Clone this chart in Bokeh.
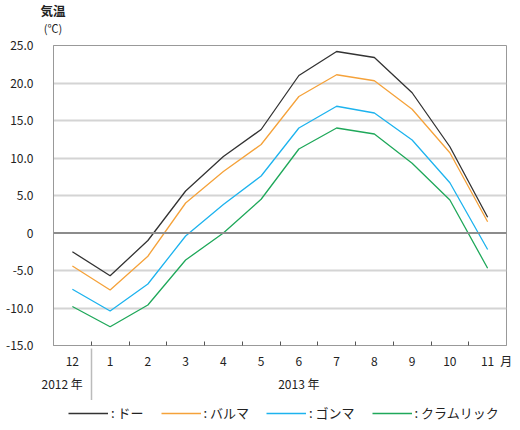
from bokeh.plotting import figure
from bokeh.layouts import column
from bokeh.models import (ColumnDataSource, FixedTicker, Range1d, LinearAxis, Div,
                          Legend, LegendItem, NumeralTickFormatter, Span)
from bokeh.embed import file_html
from bokeh.resources import INLINE

# ---- data ----
months = ["12", "1", "2", "3", "4", "5", "6", "7", "8", "9", "10",
          "\u2002\u2002\u200211\u2002月"]
years = ["2012 年", "2013 年"]
year_pos = [0.23, 6.5]
series_labels = [": ドー", ": バルマ", ": ゴンマ", ": クラムリック"]
do_temp = [-2.5, -5.7, -1.0, 5.6, 10.2, 13.8, 21.0, 24.2, 23.4, 18.7, 11.5, 2.1]
barma_temp = [-4.4, -7.6, -3.1, 4.0, 8.2, 11.8, 18.2, 21.1, 20.3, 16.5, 10.7, 1.5]
gonma_temp = [-7.5, -10.4, -6.8, -0.4, 3.8, 7.6, 14.0, 16.9, 16.0, 12.4, 6.7, -2.2]
kuramu_temp = [-9.8, -12.5, -9.6, -3.6, 0.0, 4.5, 11.2, 14.0, 13.2, 9.3, 4.4, -4.7]
y_ticks = [-15, -10, -5, 0, 5, 10, 15, 20, 25]
unit_title = ["気温", "(℃)"]

keys = ["do", "barma", "gonma", "kuramu"]
colors = ["#333333", "#f5a23a", "#1db3ee", "#1fa85a"]
FONT = "Noto Sans CJK JP"
TXT = "#222222"

xs = [i + 0.5 for i in range(len(months))]
src = ColumnDataSource(dict(x=xs, do=do_temp, barma=barma_temp,
                            gonma=gonma_temp, kuramu=kuramu_temp))

# ---- header with the unit title ----
hd = Div(width=520, height=36, margin=0,
         text=("<div style=\"width:106px;text-align:center;font-family:'Noto Sans CJK JP';"
               "color:#222222;padding-top:1.5px\">"
               f"<div style='font-size:12.5px;font-weight:bold;line-height:18.5px'>{unit_title[0]}</div>"
               f"<div style='font-size:11px;line-height:16px'>{unit_title[1]}</div></div>"))

# ---- main chart ----
p = figure(width=520, height=364, output_backend="svg", toolbar_location=None,
           x_range=Range1d(0, 12), y_range=Range1d(-15, 25),
           min_border_left=53, min_border_right=14, min_border_top=9,
           min_border_bottom=55)
p.background_fill_color = "white"
p.border_fill_color = "white"
p.outline_line_color = "#999999"
p.outline_line_width = 1

p.xgrid.visible = False
p.ygrid.ticker = FixedTicker(ticks=[t for t in y_ticks if t != 0])
p.ygrid.grid_line_color = "#d4d4d4"
p.ygrid.grid_line_width = 2
p.add_layout(Span(location=0, dimension="width", line_color="#8c8c8c", line_width=2))

ya = p.yaxis[0]
ya.ticker = FixedTicker(ticks=y_ticks)
ya.formatter = NumeralTickFormatter(format="0.0")
ya.major_label_overrides = {0: "0"}
ya.major_tick_line_color = None
ya.minor_tick_line_color = None
ya.axis_line_color = "#999999"
ya.major_label_text_font = FONT
ya.major_label_text_font_size = "12px"
ya.major_label_text_color = TXT
ya.major_label_standoff = 14

xa = p.xaxis[0]
xa.ticker = FixedTicker(ticks=xs, minor_ticks=list(range(1, 12)))
xa.major_label_overrides = {x: m for x, m in zip(xs, months)}
xa.major_tick_line_color = None
xa.major_tick_out = 0
xa.major_tick_in = 0
xa.minor_tick_in = 4
xa.minor_tick_out = 0
xa.minor_tick_line_color = "#555555"
xa.axis_line_color = "#999999"
xa.major_label_text_font = FONT
xa.major_label_text_font_size = "12px"
xa.major_label_text_color = TXT
xa.major_label_standoff = 6

# years axis; its single minor tick is the 2012/2013 separator
yr = LinearAxis(ticker=FixedTicker(ticks=year_pos, minor_ticks=[1]))
yr.major_label_overrides = {x: y for x, y in zip(year_pos, years)}
yr.axis_line_color = None
yr.major_tick_line_color = None
yr.major_tick_in = 0
yr.major_tick_out = 0
yr.minor_tick_line_color = "#bbbbbb"
yr.minor_tick_line_width = 1.5
yr.minor_tick_in = 23
yr.minor_tick_out = 30
yr.major_label_text_font = FONT
yr.major_label_text_font_size = "12px"
yr.major_label_text_color = TXT
yr.major_label_standoff = -27
p.add_layout(yr, "below")

for key, col in zip(keys, colors):
    p.line("x", key, source=src, line_color=col, line_width=1.3)

# ---- legend strip ----
lg = figure(width=520, height=30, output_backend="svg", toolbar_location=None,
            x_axis_type=None, y_axis_type=None,
            x_range=Range1d(0, 1), y_range=Range1d(1000, 1001),
            min_border_left=0, min_border_right=0, min_border_top=0,
            min_border_bottom=0)
lg.grid.visible = False
lg.outline_line_color = None
items = []
for key, col, lab in zip(keys, colors, series_labels):
    r = lg.line("x", key, source=src, line_color=col, line_width=1.3)
    items.append(LegendItem(label=lab, renderers=[r]))
legend = Legend(items=items, orientation="horizontal", location=(15, 8),
                glyph_width=40, glyph_height=18, label_standoff=3, spacing=17,
                padding=0, margin=0, border_line_color=None,
                background_fill_alpha=0,
                label_text_font=FONT, label_text_font_size="13px",
                label_text_color=TXT)
lg.add_layout(legend, "center")

open("out.html", "w").write(file_html(column(hd, p, lg, spacing=0), INLINE))
